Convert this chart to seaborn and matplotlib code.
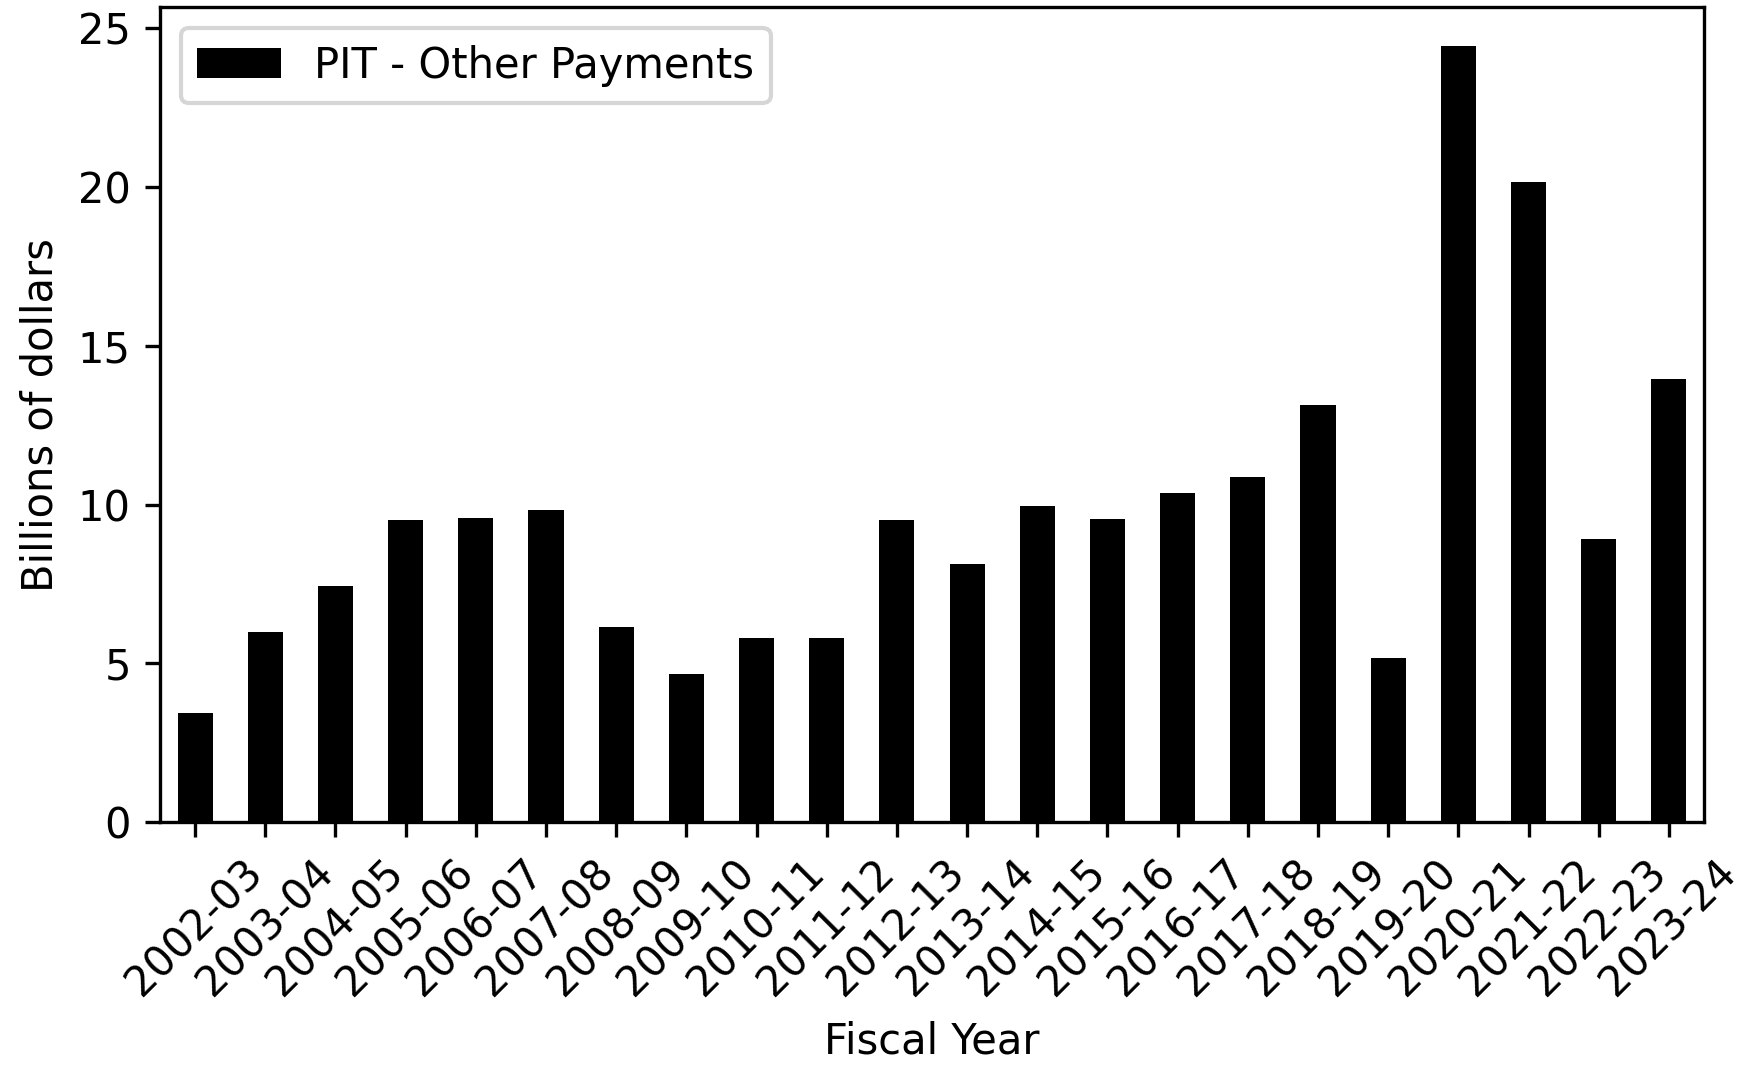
import matplotlib
matplotlib.use("Agg")
import matplotlib.pyplot as plt
import seaborn as sns
import pandas as pd

# values (billions of dollars)
fiscal_years = [
    "2002-03", "2003-04", "2004-05", "2005-06", "2006-07", "2007-08",
    "2008-09", "2009-10", "2010-11", "2011-12", "2012-13", "2013-14",
    "2014-15", "2015-16", "2016-17", "2017-18", "2018-19", "2019-20",
    "2020-21", "2021-22", "2022-23", "2023-24",
]
other_payments = [
    3.45, 5.99, 7.43, 9.51, 9.58, 9.82,
    6.16, 4.68, 5.81, 5.81, 9.51, 8.13,
    9.96, 9.54, 10.35, 10.88, 13.13, 5.18,
    24.44, 20.14, 8.91, 13.94,
]

df = pd.DataFrame({"Fiscal Year": fiscal_years, "PIT - Other Payments": other_payments})

fig, ax = plt.subplots(figsize=(5.84, 3.55), dpi=300)
sns.barplot(data=df, x="Fiscal Year", y="PIT - Other Payments", color="black",
            saturation=1, width=0.5, label="PIT - Other Payments", ax=ax)

ax.set_xlabel("Fiscal Year")
ax.set_ylabel("Billions of dollars")
ax.tick_params(axis="x", rotation=45)
ax.legend(loc="upper left")

fig.subplots_adjust(left=0.0913, right=0.9726, top=0.9934, bottom=0.228)
fig.savefig("out.png", dpi=300)
